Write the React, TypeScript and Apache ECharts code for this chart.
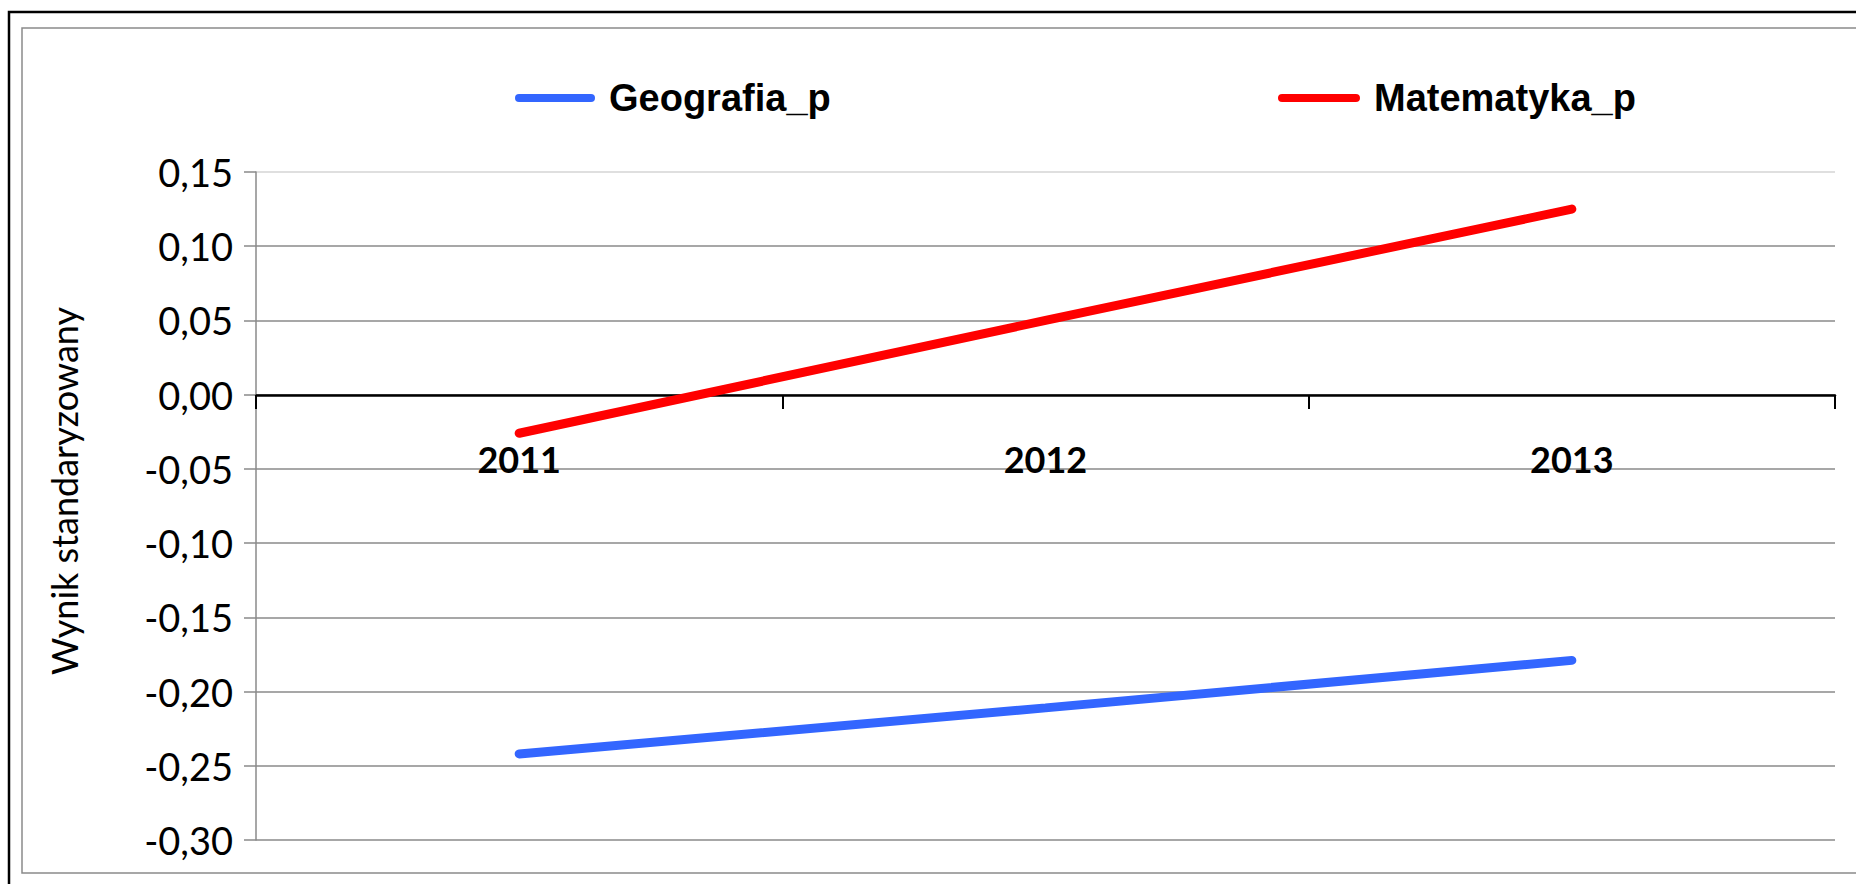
import React, { useEffect, useRef } from "react";
import * as echarts from "echarts";

const years = ["2011", "2012", "2013"];
const geografia = [-0.242, -0.211, -0.179];
const matematyka = [-0.026, 0.05, 0.125];
const seriesNames = ["Geografia_p", "Matematyka_p"];
const seriesColors = ["#3366FF", "#FF0000"];
const yMin = -0.3;
const yMax = 0.15;
const yStep = 0.05;
const yAxisTitle = "Wynik standaryzowany";

const capsule = "path://M5,0 L95,0 A5,5 0 0 1 95,10 L5,10 A5,5 0 0 1 5,0 Z";

export default function App() {
  const ref = useRef<HTMLDivElement>(null);
  useEffect(() => {
    if (!ref.current) return;
    const chart = echarts.init(ref.current, undefined, { renderer: "svg" });
    const gridTop = 172;
    const gridHeight = 668;
    const zeroOffset = -Math.round((gridHeight * (0 - yMin)) / (yMax - yMin));
    const gridColors = [
      "#8a8a8a", "#8a8a8a", "#8a8a8a", "#8a8a8a", "#8a8a8a",
      "#8a8a8a", "#8a8a8a", "#8a8a8a", "#8a8a8a", "#d4d4d4",
    ];
    const legendText = {
      fontFamily: "Liberation Sans, Arial, sans-serif",
      fontWeight: "bold" as const,
      fontSize: 38,
      color: "#000",
      padding: [0, 0, 0, 9],
    };
    chart.setOption({
      animation: false,
      backgroundColor: "#fff",
      graphic: [
        {
          type: "rect",
          z: -10,
          silent: true,
          shape: { x: 9, y: 12, width: 1900, height: 1000 },
          style: { fill: "none", stroke: "#000", lineWidth: 2.5 },
        },
        {
          type: "rect",
          z: -10,
          silent: true,
          shape: { x: 22, y: 28, width: 1900, height: 845 },
          style: { fill: "none", stroke: "#8a8a8a", lineWidth: 1.5 },
        },
      ],
      legend: [
        {
          data: [seriesNames[0]],
          left: 515,
          top: 79,
          padding: 0,
          icon: capsule,
          itemWidth: 80,
          itemHeight: 9,
          textStyle: legendText,
        },
        {
          data: [seriesNames[1]],
          left: 1278,
          top: 79,
          padding: 0,
          icon: capsule,
          itemWidth: 82,
          itemHeight: 9,
          textStyle: legendText,
        },
      ],
      grid: {
        left: 256,
        top: gridTop,
        width: 1579,
        height: gridHeight,
        containLabel: false,
        outerBoundsMode: "none",
      },
      xAxis: {
        type: "category",
        data: years,
        boundaryGap: true,
        offset: zeroOffset,
        axisLine: { onZero: false, lineStyle: { color: "#000", width: 2.5 } },
        axisTick: { show: true, length: 14, lineStyle: { color: "#000", width: 2 } },
        axisLabel: {
          margin: 46,
          fontFamily: "Lato, sans-serif",
          fontWeight: "bold",
          fontSize: 36,
          color: "#000",
        },
        splitLine: { show: false },
      },
      yAxis: {
        type: "value",
        min: yMin,
        max: yMax,
        interval: yStep,
        name: yAxisTitle,
        nameLocation: "middle",
        nameRotate: 90,
        nameGap: 174,
        nameTextStyle: {
          fontFamily: "Lato, sans-serif",
          fontSize: 36,
          color: "#000",
          padding: [0, 0, 0, 30],
        },
        axisLine: { show: true, onZero: false, lineStyle: { color: "#8a8a8a", width: 1.5 } },
        axisTick: { show: true, length: 12, lineStyle: { color: "#8a8a8a", width: 1.5 } },
        axisLabel: {
          margin: 23,
          fontFamily: "Lato, sans-serif",
          fontSize: 38,
          color: "#000",
          formatter: (v: number) => {
            const r = Math.round(v * 100) / 100;
            return (r === 0 ? 0 : r).toFixed(2).replace(".", ",");
          },
        },
        splitLine: { show: true, lineStyle: { color: gridColors, width: 1.5 } },
      },
      series: [
        {
          name: seriesNames[0],
          type: "line",
          data: geografia,
          symbol: "none",
          color: seriesColors[0],
          lineStyle: { color: seriesColors[0], width: 9, cap: "round" },
        },
        {
          name: seriesNames[1],
          type: "line",
          data: matematyka,
          symbol: "none",
          color: seriesColors[1],
          lineStyle: { color: seriesColors[1], width: 9, cap: "round" },
        },
      ],
    });
    return () => chart.dispose();
  }, []);
  return (
    <div
      ref={ref}
      style={{ position: "fixed", left: 0, top: 0, width: 1856, height: 884, background: "#fff" }}
    />
  );
}
